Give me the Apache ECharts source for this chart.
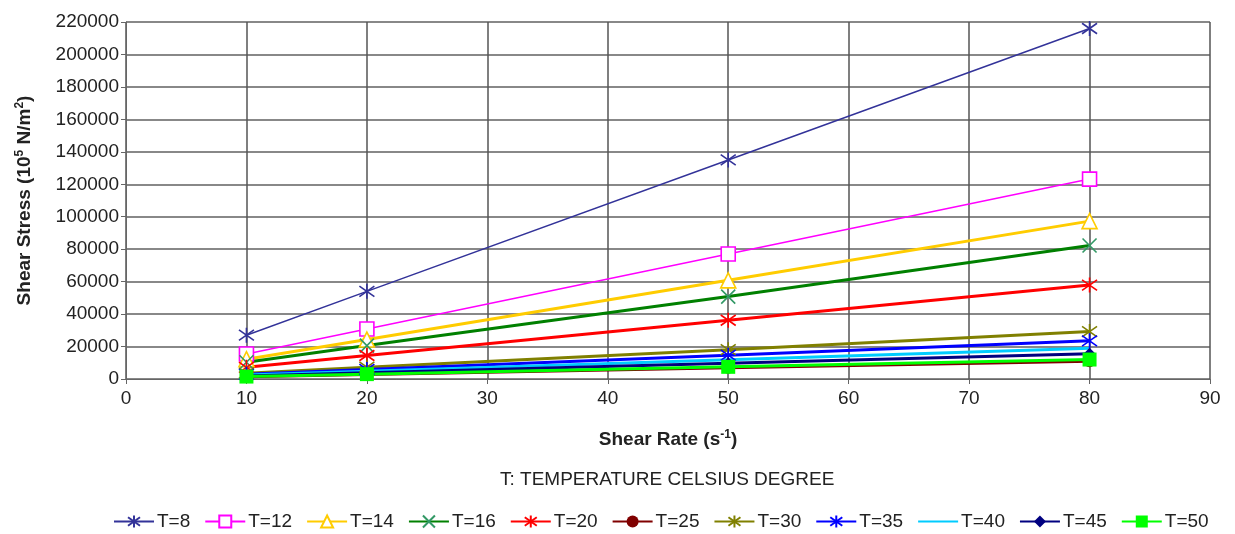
<!DOCTYPE html>
<html><head><meta charset="utf-8">
<script src="https://cdn.jsdelivr.net/npm/echarts@6/dist/echarts.min.js"></script>
<style>html,body{margin:0;padding:0;background:#fff}#c{width:1235px;height:534px}</style>
</head><body><div id="c"></div>
<script>
const shearRates = [10, 20, 50, 80];
const seriesNames = ['T=8','T=12','T=14','T=16','T=20','T=25','T=30','T=35','T=40','T=45','T=50'];
const t8  = [27000, 54000, 135000, 216000];
const t12 = [15400, 30800, 77000, 123200];
const t14 = [12200, 24300, 60800, 97300];
const t16 = [10300, 20600, 50800, 82300];
const t20 = [7200, 14500, 36200, 57900];
const t25 = [1400, 2800, 6900, 11000];
const t30 = [3600, 7300, 18100, 29200];
const t35 = [2900, 5900, 14700, 23500];
const t40 = [2400, 4800, 11900, 19000];
const t45 = [1900, 3900, 9700, 15500];
const t50 = [1500, 3000, 7500, 12000];
const seriesValues = [t8, t12, t14, t16, t20, t25, t30, t35, t40, t45, t50];

const star = 'path://M-7,-7L7,7M-7,7L7,-7M0,-10L0,10';
const cross = 'path://M-7,-7L7,7M-7,7L7,-7';
const styles = [
  {c:'#333399', w:1.5, sym:star, size:15, stroke:true},
  {c:'#FF00FF', w:1.5, sym:'rect', size:14, hollow:true},
  {c:'#FFCC00', w:3, sym:'triangle', size:15, hollow:true},
  {c:'#008000', mc:'#339966', w:3, sym:cross, size:14, stroke:true},
  {c:'#FF0000', w:3, sym:star, size:15, stroke:true},
  {c:'#800000', w:3, sym:'circle', size:12},
  {c:'#808000', w:3, sym:star, size:15, stroke:true},
  {c:'#0000FF', w:3, sym:star, size:15, stroke:true},
  {c:'#00CCFF', w:3, sym:'none', size:0},
  {c:'#000080', w:3, sym:'diamond', size:12},
  {c:'#00FF00', w:3, sym:'rect', size:14}
];

const FONT = 'Liberation Sans, Arial, sans-serif';

const series = seriesNames.map((n, i) => {
  const s = styles[i];
  const mc = s.mc || s.c;
  let itemStyle;
  if (s.stroke) itemStyle = {color: mc, borderColor: mc, borderWidth: 1.6};
  else if (s.hollow) itemStyle = {color: '#fff', borderColor: mc, borderWidth: 1.6};
  else itemStyle = {color: mc, borderWidth: 0};
  return {
    name: n, type: 'line',
    data: shearRates.map((x, k) => [x, seriesValues[i][k]]),
    symbol: s.sym, symbolSize: s.size, showSymbol: s.sym !== 'none',
    lineStyle: {color: s.c, width: s.w},
    itemStyle: itemStyle,
    emphasis: {disabled: true},
    animation: false
  };
});

const legendData = seriesNames.map((n, i) => styles[i].sym === 'none'
  ? {name: n, itemStyle: {color: 'rgba(0,0,0,0)', borderWidth: 0, opacity: 0}}
  : {name: n});

const chart = echarts.init(document.getElementById('c'), null, {renderer: 'canvas'});
chart.setOption({
  backgroundColor: '#fff',
  animation: false,
  textStyle: {fontFamily: FONT},
  title: {
    text: 'T: TEMPERATURE CELSIUS DEGREE',
    left: 495, top: 465,
    textStyle: {fontSize: 19, fontWeight: 'normal', color: '#222', fontFamily: FONT}
  },
  grid: {left: 126, right: 25, top: 22, bottom: 155, containLabel: false},
  legend: {
    left: 108, top: 507,
    itemWidth: 40, itemHeight: 15, itemGap: 14,
    textStyle: {fontSize: 19, color: '#222', fontFamily: FONT, padding: [0, 0, 0, -2]},
    data: legendData
  },
  xAxis: {
    type: 'value', min: 0, max: 90, interval: 10,
    name: 'Shear Rate (s{sup|-1})',
    nameLocation: 'middle', nameGap: 50,
    nameTextStyle: {
      fontSize: 19, fontWeight: 'bold', color: '#222',
      rich: {sup: {fontSize: 12, fontWeight: 'bold', color: '#222', padding: [0, 0, 10, 0]}}
    },
    axisLine: {show: true, lineStyle: {color: '#666', width: 1}},
    axisTick: {show: true, length: 5, lineStyle: {color: '#666'}},
    axisLabel: {fontSize: 19, color: '#222', margin: 10},
    splitLine: {show: true, lineStyle: {color: '#555', width: 1.5}}
  },
  yAxis: {
    type: 'value', min: 0, max: 220000, interval: 20000,
    name: 'Shear Stress (10{sup|5} N/m{sup|2})',
    nameLocation: 'middle', nameGap: 90,
    nameTextStyle: {
      fontSize: 19, fontWeight: 'bold', color: '#222',
      rich: {sup: {fontSize: 12, fontWeight: 'bold', color: '#222', padding: [0, 0, 10, 0]}}
    },
    axisLine: {show: true, lineStyle: {color: '#666', width: 1}},
    axisTick: {show: true, length: 5, lineStyle: {color: '#666'}},
    axisLabel: {fontSize: 19, color: '#222', margin: 7, formatter: v => String(v)},
    splitLine: {show: true, lineStyle: {color: '#888', width: 2}}
  },
  series: series
});
</script></body></html>
